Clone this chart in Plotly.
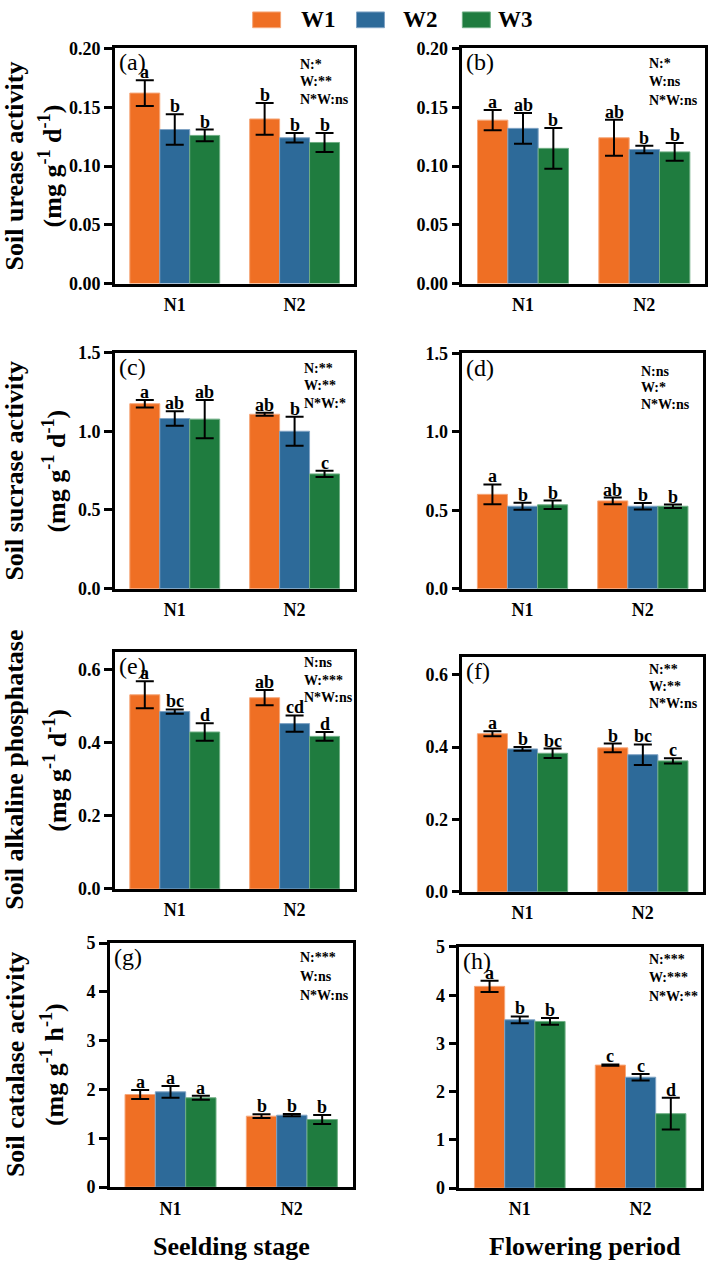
import plotly.graph_objects as go

# ---------------- data ----------------
categories = ["N1", "N2"]
series = ["W1", "W2", "W3"]

# rows: W1, W2, W3 ; columns: N1, N2
a_mean = [[0.162, 0.140], [0.131, 0.124], [0.126, 0.120]]
a_err = [[0.011, 0.0135], [0.013, 0.004], [0.005, 0.008]]
a_let = [["a", "b"], ["b", "b"], ["b", "b"]]

b_mean = [[0.139, 0.124], [0.132, 0.114], [0.115, 0.112]]
b_err = [[0.0086, 0.0153], [0.013, 0.0032], [0.0174, 0.0076]]
b_let = [["a", "ab"], ["ab", "b"], ["b", "b"]]

c_mean = [[1.175, 1.108], [1.081, 1.000], [1.077, 0.729]]
c_err = [[0.024, 0.010], [0.046, 0.092], [0.122, 0.020]]
c_let = [["a", "ab"], ["ab", "b"], ["ab", "c"]]

d_mean = [[0.602, 0.560], [0.526, 0.526], [0.535, 0.526]]
d_err = [[0.063, 0.021], [0.023, 0.020], [0.027, 0.011]]
d_let = [["a", "ab"], ["b", "b"], ["b", "b"]]

e_mean = [[0.532, 0.524], [0.486, 0.453], [0.430, 0.418]]
e_err = [[0.037, 0.021], [0.006, 0.0225], [0.024, 0.012]]
e_let = [["a", "ab"], ["bc", "cd"], ["d", "d"]]

f_mean = [[0.437, 0.398], [0.395, 0.379], [0.383, 0.362]]
f_err = [[0.007, 0.012], [0.005, 0.0285], [0.013, 0.007]]
f_let = [["a", "b"], ["b", "bc"], ["bc", "c"]]

g_mean = [[1.898, 1.454], [1.952, 1.474], [1.830, 1.386]]
g_err = [[0.094, 0.037], [0.120, 0.024], [0.040, 0.090]]
g_let = [["a", "b"], ["a", "b"], ["a", "b"]]

h_mean = [[4.184, 2.551], [3.490, 2.300], [3.456, 1.544]]
h_err = [[0.116, 0.014], [0.070, 0.066], [0.070, 0.330]]
h_let = [["a", "c"], ["b", "c"], ["b", "d"]]

a_stats = ["N:*", "W:**", "N*W:ns"]
b_stats = ["N:*", "W:ns", "N*W:ns"]
c_stats = ["N:**", "W:**", "N*W:*"]
d_stats = ["N:ns", "W:*", "N*W:ns"]
e_stats = ["N:ns", "W:***", "N*W:ns"]
f_stats = ["N:**", "W:**", "N*W:ns"]
g_stats = ["N:***", "W:ns", "N*W:ns"]
h_stats = ["N:***", "W:***", "N*W:**"]

unit_d = "(mg g<sup>-1</sup> d<sup>-1</sup>)"
unit_h = "(mg g<sup>-1</sup> h<sup>-1</sup>)"
row_titles = ["Soil urease activity", "Soil sucrase activity",
              "Soil alkaline phosphatase", "Soil catalase activity"]
row_units = [unit_d, unit_d, unit_d, unit_h]
stage_titles = ["Seelding stage", "Flowering period"]

# ---------------- style ----------------
W, H = 708, 1269
FONT = "Liberation Serif, Times New Roman, serif"
colors = ["#EF6F24", "#2D6A99", "#1F7C3F"]
edge = ["#F6A77A", "#7FA3C4", "#6FAE84"]


def X(p):
    return p / W


def Y(p):
    return 1 - p / H


panels = [
    # label, mean, err, letters, stats, (x0,x1,ytop,ybot), ymax, dtick, fmt, stats pos (x, [y..])
    ("(a)", a_mean, a_err, a_let, a_stats, (115, 355, 39, 278), 0.20, 0.05, ".2f", (298, [55, 73, 91])),
    ("(b)", b_mean, b_err, b_let, b_stats, (463, 706, 39, 278), 0.20, 0.05, ".2f", (648, [54, 73, 92])),
    ("(c)", c_mean, c_err, c_let, c_stats, (115, 355, 348, 588), 1.5, 0.5, ".1f", (302, [364, 382, 400])),
    ("(d)", d_mean, d_err, d_let, d_stats, (463, 704, 349, 588), 1.5, 0.5, ".1f", (640, [367, 384, 401])),
    ("(e)", e_mean, e_err, e_let, e_stats, (115, 355, 652, 893), 0.65, 0.2, ".1f", (302, [663, 681, 699])),
    ("(f)", f_mean, f_err, f_let, f_stats, (463, 704, 657, 896), 0.65, 0.2, ".1f", (648, [670, 687, 705])),
    ("(g)", g_mean, g_err, g_let, g_stats, (110, 353, 948, 1196), 5, 1, "d", (298, [963, 982, 1001])),
    ("(h)", h_mean, h_err, h_let, h_stats, (460, 702, 952, 1197), 5, 1, "d", (648, [965, 983, 1002])),
]

fig = go.Figure()
annotations = []
layout_axes = {}

bold = dict(family=FONT, weight="bold", color="black")

for i, (lab, mean, err, let, stats, dom, ymax, dtick, fmt, spos) in enumerate(panels):
    n = i + 1
    xa = "x" if n == 1 else f"x{n}"
    ya = "y" if n == 1 else f"y{n}"
    x0, x1, yt, yb = dom
    for k in range(3):
        fig.add_trace(go.Bar(
            x=categories, y=mean[k], name=series[k],
            marker=dict(color=colors[k], line=dict(color=edge[k], width=1)),
            error_y=dict(type="data", array=err[k], color="black", thickness=2, width=9),
            xaxis=xa, yaxis=ya, showlegend=False,
        ))
        for j in range(2):
            annotations.append(dict(
                xref=xa, yref=ya, x=j + (k - 1) * 0.25, y=mean[k][j] + err[k][j],
                text=let[k][j], showarrow=False, yanchor="bottom", xanchor="center",
                yshift=-4, font=dict(size=18, **bold)))
    layout_axes["xaxis" if n == 1 else f"xaxis{n}"] = dict(
        domain=[X(x0), X(x1)], anchor=ya, type="category", range=[-0.5, 1.5],
        showline=True, linewidth=2.5, linecolor="black", mirror=True,
        ticks="outside", ticklen=3, tickcolor="rgba(0,0,0,0)",
        tickfont=dict(size=18, **bold), showgrid=False, zeroline=False, fixedrange=True)
    layout_axes["yaxis" if n == 1 else f"yaxis{n}"] = dict(
        domain=[Y(yb), Y(yt)], anchor=xa, range=[0, ymax], tick0=0, dtick=dtick,
        tickformat=fmt, showline=True, linewidth=2.5, linecolor="black", mirror=True,
        ticks="outside", ticklen=8, tickwidth=2.5, tickcolor="black",
        tickfont=dict(size=18, **bold), showgrid=False, zeroline=False, fixedrange=True)
    # panel label
    annotations.append(dict(xref="paper", yref="paper", x=X(x0 + 2), y=Y(yt - 1),
                            text=lab, showarrow=False, xanchor="left", yanchor="top",
                            font=dict(size=24, family=FONT, color="black")))
    # stats
    sx, sys_ = spos
    for s, sy in zip(stats, sys_):
        annotations.append(dict(xref="paper", yref="paper", x=X(sx), y=Y(sy),
                                text=s, showarrow=False, xanchor="left", yanchor="middle",
                                font=dict(size=14, **bold)))

# y-axis titles
row_centers = [158, 468, 772, 1071]
line2_x = [51, 55, 56, 52]
for r in range(4):
    annotations.append(dict(xref="paper", yref="paper", x=X(15), y=Y(row_centers[r]),
                            text=row_titles[r], textangle=-90, showarrow=False,
                            xanchor="center", yanchor="middle", font=dict(size=26, **bold)))
    annotations.append(dict(xref="paper", yref="paper", x=X(line2_x[r]), y=Y(row_centers[r]),
                            text=row_units[r], textangle=-90, showarrow=False,
                            xanchor="center", yanchor="middle", font=dict(size=26, **bold)))

# stage titles
for cx, t in zip([232, 586], stage_titles):
    annotations.append(dict(xref="paper", yref="paper", x=X(cx), y=Y(1256),
                            text=t, showarrow=False, xanchor="center", yanchor="middle",
                            font=dict(size=26, **bold)))

# legend (manual)
shapes = []
leg_sq = [253, 357, 463]
leg_tx = [299, 402, 497]
for k in range(3):
    shapes.append(dict(type="rect", xref="paper", yref="paper",
                       x0=X(leg_sq[k]), x1=X(leg_sq[k] + 28), y0=Y(18), y1=Y(2),
                       fillcolor=colors[k], line=dict(color=edge[k], width=1)))
    annotations.append(dict(xref="paper", yref="paper", x=X(leg_tx[k]), y=Y(10),
                            text=series[k], showarrow=False, xanchor="left", yanchor="middle",
                            font=dict(size=23, **bold)))

fig.update_layout(
    width=W, height=H, margin=dict(l=0, r=0, t=0, b=0),
    paper_bgcolor="white", plot_bgcolor="white",
    barmode="group", bargap=0.25, bargroupgap=0,
    annotations=annotations, shapes=shapes, showlegend=False,
    font=dict(family=FONT, color="black"),
    **layout_axes,
)

fig.write_html("out.html")
